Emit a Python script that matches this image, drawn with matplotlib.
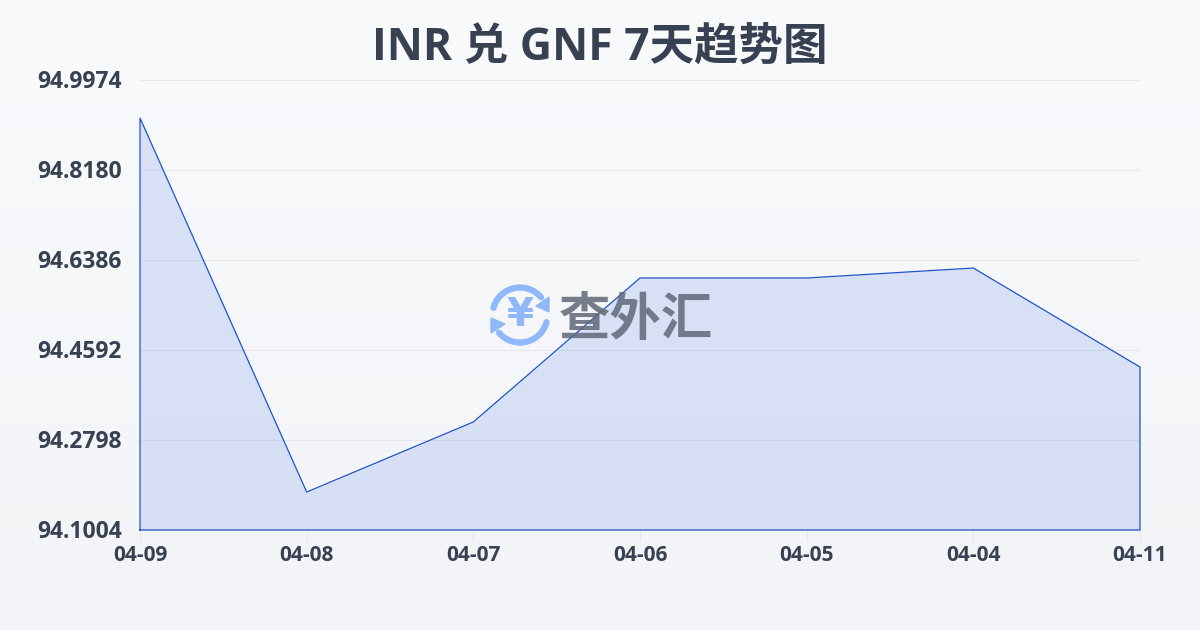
import numpy as np
import matplotlib
matplotlib.use('Agg')
import matplotlib.pyplot as plt
from matplotlib.patches import Arc, Polygon
from matplotlib.colors import LinearSegmentedColormap
from matplotlib.transforms import ScaledTranslation

dates = ['04-09', '04-08', '04-07', '04-06', '04-05', '04-04', '04-11']
rates = [94.9217, 94.1761, 94.3157, 94.6027, 94.6027, 94.6226, 94.4253]
yticks = [94.1004, 94.2798, 94.4592, 94.6386, 94.8180, 94.9974]
title = 'INR 兑 GNF 7天趋势图'
watermark = '查外汇'

fam = ['Open Sans', 'Noto Sans CJK SC', 'DejaVu Sans']
cjk = ['Noto Sans CJK SC', 'DejaVu Sans']
W, H = 1200, 630
fig = plt.figure(figsize=(W/100, H/100), dpi=100)

bg = fig.add_axes([0, 0, 1, 1], zorder=0)
cm = LinearSegmentedColormap.from_list('bg', ['#f9fafc', '#f3f4f7'])
bg.imshow(np.linspace(0, 1, 256)[:, None], aspect='auto', cmap=cm, extent=[0, W, H, 0])
bg.set_xlim(0, W); bg.set_ylim(H, 0); bg.axis('off')

ax = fig.add_axes([140/W, 1-530/H, 1000/W, 450/H], zorder=1)
ax.patch.set_alpha(0)
x = np.arange(len(dates))
ax.set_xlim(0, len(dates)-1)
ax.set_ylim(yticks[0], yticks[-1])
ax.set_yticks(yticks)
ax.set_yticklabels([f'{v:.4f}' for v in yticks], family=fam, fontsize=16.5, fontweight='bold', color='#374151')
ax.set_xticks(x)
ax.set_xticklabels(dates, family=fam, fontsize=15, fontweight='bold', color='#374151')
ax.grid(axis='y', color='#e5e7eb', lw=0.8)
ax.set_axisbelow(True)
for s in ax.spines.values():
    s.set_visible(False)
ax.tick_params(axis='y', length=0, pad=13)
ax.tick_params(axis='x', length=8, width=0.8, color='#e5e7eb', pad=2.5)
for lab in ax.get_yticklabels():
    lab.set_transform(lab.get_transform() + ScaledTranslation(0, 1/100, fig.dpi_scale_trans))
ax.fill_between(x, rates, yticks[0], color='#2a5fe0', alpha=0.145, lw=0, zorder=2)
ax.plot(np.r_[x[0], x, x[-1], x[0]], np.r_[yticks[0], rates, yticks[0], yticks[0]],
        color='#1f55c8', lw=0.9, zorder=3, clip_on=False, solid_joinstyle='miter')

fig.text(600/W, 1-48/H, title, family=fam, fontsize=32, fontweight='bold', color='#374151',
         ha='center', va='center', zorder=5)

ov = fig.add_axes([0, 0, 1, 1], zorder=4)
ov.set_xlim(0, W); ov.set_ylim(H, 0); ov.axis('off'); ov.patch.set_alpha(0)
blue = '#8fb8f8'
cx, cy, d = 520, 315, 55
ov.add_patch(Arc((cx, cy), d, d, theta1=195, theta2=320, color=blue, lw=4.5, capstyle='round'))
ov.add_patch(Arc((cx, cy), d, d, theta1=15, theta2=140, color=blue, lw=4.5, capstyle='round'))
ov.add_patch(Polygon([(549, 297), (549, 312), (536, 306)], closed=True, color=blue))
ov.add_patch(Polygon([(491, 318), (491, 333), (505, 324)], closed=True, color=blue))
ov.text(cx, cy-0.5, '¥', family='DejaVu Sans', fontsize=28, fontweight='bold', color=blue, ha='center', va='center')
ov.text(636, 319, watermark, family=cjk, fontsize=37, fontweight='heavy', color='#5f6878', alpha=0.85, ha='center', va='center')

fig.savefig('out.png', dpi=100)
